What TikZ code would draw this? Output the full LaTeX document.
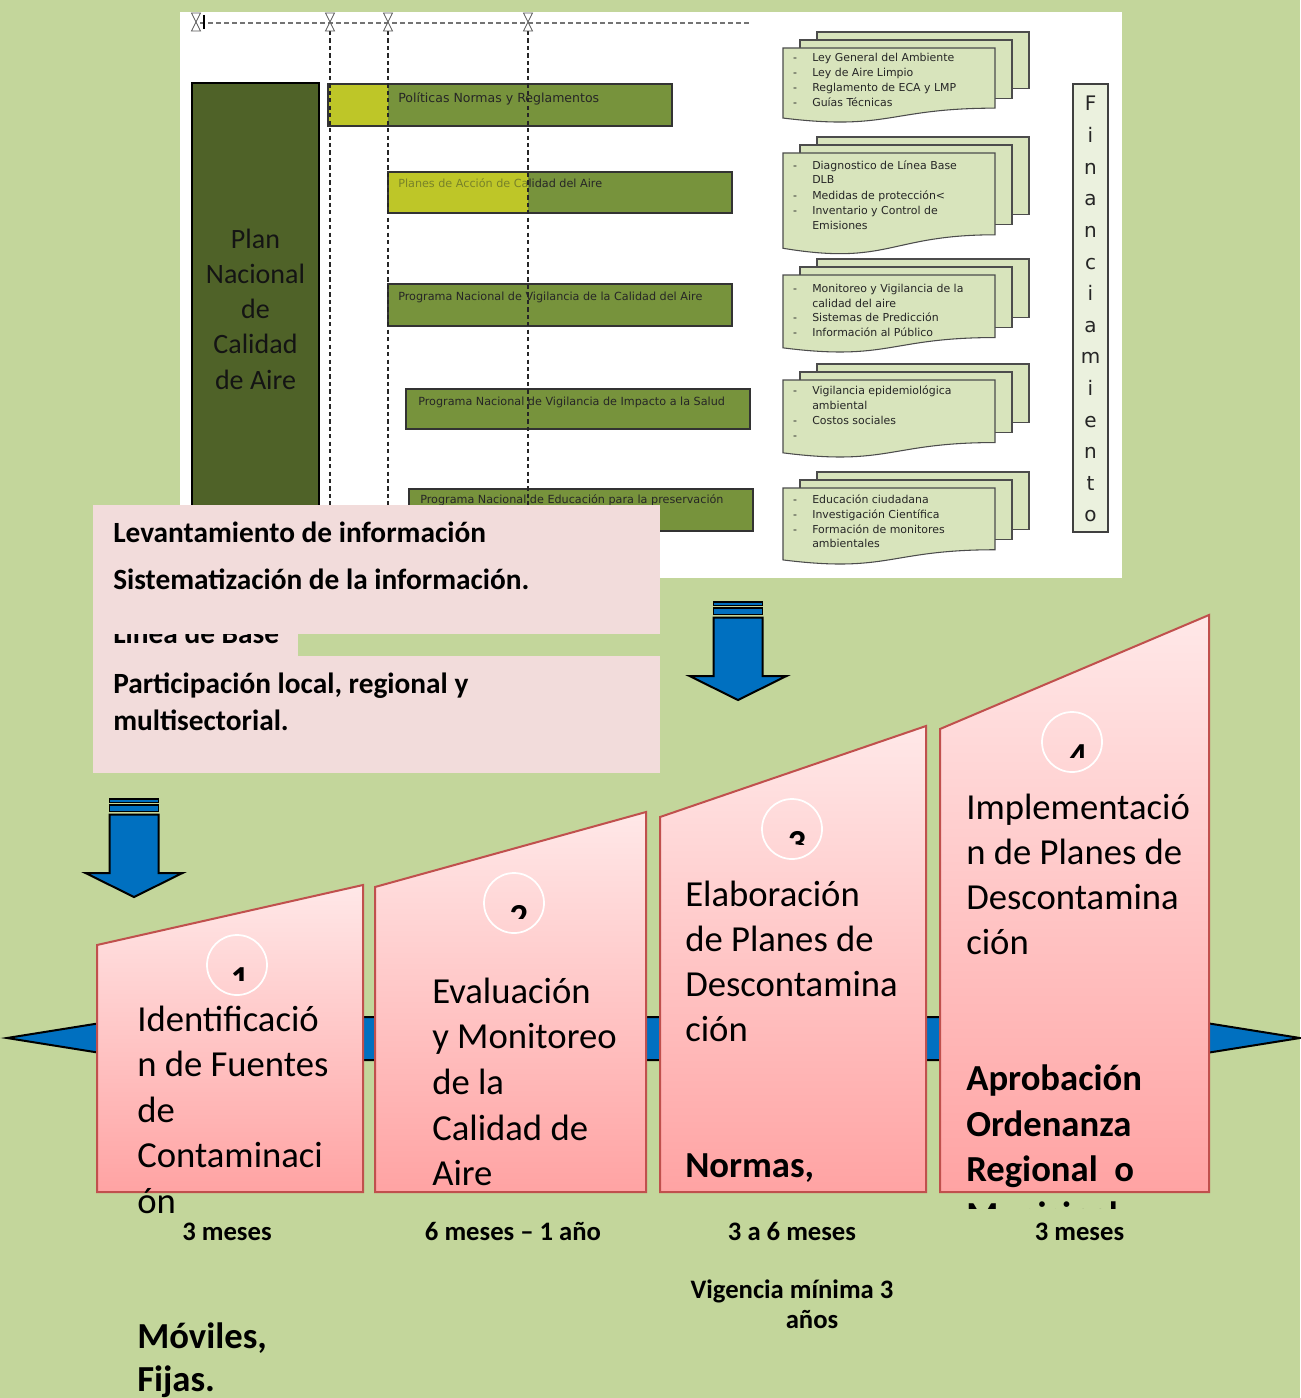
\documentclass[tikz,border=0pt]{standalone}
\usepackage{fontspec}
\setmainfont{Carlito}
\newfontfamily\figsans{DejaVu Sans}

\definecolor{bggreen}{RGB}{195,214,155}
\definecolor{olivebar}{RGB}{119,147,60}
\definecolor{darkolive}{RGB}{79,98,40}
\definecolor{limebar}{RGB}{190,198,40}
\definecolor{dimtext}{RGB}{120,130,40}
\definecolor{docfill}{RGB}{216,228,188}
\definecolor{finfill}{RGB}{235,241,222}
\definecolor{notepink}{RGB}{242,220,219}
\definecolor{steptop}{RGB}{255,232,232}
\definecolor{stepbot}{RGB}{255,163,163}
\definecolor{stepedge}{RGB}{192,80,77}
\definecolor{arrowblue}{RGB}{0,112,192}

% page of a document stack: wavy front sheet and plain sheets behind it
\newcommand\docfront[3]{%
  \filldraw[docpage] ({#1},{#2}) -- ({#1+212},{#2}) -- ({#1+212},{#2+0.802*#3})
    .. controls ({#1+106},{#2+0.802*#3}) and ({#1+106},{#2+1.107*#3}) .. ({#1},{#2+0.934*#3}) -- cycle;}
\newcommand\docback[3]{%
  \filldraw[docpage] ({#1},{#2}) rectangle ({#1+212},{#3});}
\newcommand\docstack[3]{%
  \docback{#1+34}{#2-16}{#2+0.802*#3-20}%
  \docback{#1+17}{#2-8}{#2+0.802*#3-10}%
  \docfront{#1}{#2}{#3}}

% downward block arrow with two bars on top: centre x, top y
\newcommand\droparrow[2]{%
  \filldraw[blockarrow, line width=1.1pt] ({#1-24.5},{#2}) rectangle ({#1+24.5},{#2+3.5});
  \filldraw[blockarrow, line width=1.1pt] ({#1-24.5},{#2+6}) rectangle ({#1+24.5},{#2+12.5});
  \filldraw[blockarrow] ({#1-24.5},{#2+15.5}) -- ({#1+24.5},{#2+15.5}) -- ({#1+24.5},{#2+74})
    -- ({#1+48.5},{#2+74}) -- ({#1},{#2+98}) -- ({#1-48.5},{#2+74}) -- ({#1-24.5},{#2+74}) -- cycle;}

\begin{document}
\begin{tikzpicture}[x=0.75pt,y=-0.75pt,
  imgline/.style={line width=0.8pt, black!85, dash pattern=on 3.2pt off 2.4pt},
  barbox/.style={draw=black!80, line width=0.9pt},
  bartext/.style={anchor=base west, inner sep=0pt, font=\figsans\fontsize{8.4}{10}\selectfont, text=black!85},
  docpage/.style={fill=docfill, draw=black!70, line width=0.8pt},
  doctext/.style={anchor=base west, inner sep=0pt, font=\figsans\fontsize{8.2}{10}\selectfont, text=black!85},
  fintext/.style={anchor=base, inner sep=0pt, font=\figsans\fontsize{15}{18}\selectfont, text=black!85},
  plantext/.style={anchor=base, inner sep=0pt, font=\fontsize{21}{25}\selectfont, text=black!92},
  notetext/.style={anchor=base west, inner sep=0pt, font=\fontsize{22}{27}\selectfont\bfseries},
  blockarrow/.style={fill=arrowblue, draw=black, line width=1.5pt, line join=miter},
  stepbox/.style={top color=steptop, bottom color=stepbot, draw=stepedge, line width=1.5pt},
  steptext/.style={anchor=base west, inner sep=0pt, font=\fontsize{27.5}{34}\selectfont},
  stepbold/.style={anchor=base west, inner sep=0pt, font=\fontsize{27.5}{34}\selectfont\bfseries},
  ring/.style={draw=white, line width=1.3pt},
  digit/.style={anchor=base, inner sep=0pt, font=\fontsize{27.5}{34}\selectfont\bfseries},
  timetext/.style={anchor=base, inner sep=0pt, font=\fontsize{20}{24}\selectfont\bfseries},
]
\fill[bggreen] (0,0) rectangle (1300,1398);
\useasboundingbox (0,0) rectangle (1300,1398);

% ---------- national plan chart ----------
\fill[white] (180,12) rectangle (1122,578);

% timeline rule with milestones
\draw[black!55, line width=0.8pt, dash pattern=on 3.5pt off 2.5pt] (200,23) -- (750,23);

% plan column
\filldraw[fill=darkolive, draw=black, line width=0.9pt] (192,83) rectangle (319,578);
\foreach \w/\yy [count=\k] in {Plan/248, Nacional/283, de/318, Calidad/353, de Aire/389}
  \node[plantext] (plan\k) at (255.5,\yy) {\w};

% programme bars
\fill[olivebar] (328,84) rectangle (672,126);
\fill[limebar] (328,84) rectangle (388,126);
\draw[barbox] (328,84) rectangle (672,126);
\node[bartext, font=\figsans\fontsize{9.4}{11}\selectfont] (bar1) at (398,103) {Políticas Normas y Reglamentos};

\fill[olivebar] (388,172) rectangle (732,213);
\fill[limebar] (388,172) rectangle (528,213);
\draw[barbox] (388,172) rectangle (732,213);
\begin{scope}
  \clip (388,160) rectangle (528,220);
  \node[bartext, text=dimtext] (bar2a) at (398,188) {Planes de Acción de Calidad  del Aire};
\end{scope}
\begin{scope}
  \clip (528,160) rectangle (740,220);
  \node[bartext] (bar2b) at (398,188) {Planes de Acción de Calidad  del Aire};
\end{scope}

\filldraw[fill=olivebar, barbox] (388,284) rectangle (732,326);
\node[bartext] (bar3) at (398,300) {Programa Nacional  de Vigilancia  de la Calidad  del Aire};

\filldraw[fill=olivebar, barbox] (406,389) rectangle (750,429);
\node[bartext] (bar4) at (418,405) {Programa Nacional  de Vigilancia  de Impacto a la Salud};

\filldraw[fill=olivebar, barbox] (409,489) rectangle (753,531);
\node[bartext] (bar5) at (420,503) {Programa Nacional  de Educación  para la preservación};

% milestone guides
\foreach \gx in {330,388,528}
  \draw[imgline] (\gx,31) -- (\gx,578);
\foreach \hx in {196,330,388,528}
  \filldraw[fill=white, draw=black!65, line width=0.6pt]
    (\hx-4.5,13) -- (\hx+4.5,13) -- (\hx-4.5,31) -- (\hx+4.5,31) -- cycle;
\draw[line width=1.6pt] (204,15) -- (204,29);

% document stacks
\docstack{783}{48}{75}
\docstack{783}{153}{102}
\docstack{783}{275}{78}
\docstack{783}{380}{78}
\docstack{783}{488}{77}

\foreach \yy/\bul/\txt in {
   62/-/Ley General del Ambiente, 77/-/Ley de Aire Limpio, 92/-/Reglamento de ECA y LMP, 107/-/Guías Técnicas,
   170/-/Diagnostico  de Línea Base, 184//DLB, 200/-/Medidas de protección<, 215/-/Inventario y Control  de, 229//Emisiones,
   292/-/Monitoreo y Vigilancia  de la, 307//calidad del aire, 321/-/Sistemas de Predicción, 336/-/Información al Público,
   394/-/Vigilancia  epidemiológica, 409//ambiental, 424/-/Costos sociales, 439/-/{},
   503/-/Educación ciudadana, 518/-/Investigación Científica, 533/-/Formación de monitores, 547//ambientales}
{
  \node[doctext] (dt\yy) at (812,\yy) {\txt};
  \node[doctext, anchor=base] (db\yy) at (795,\yy) {\bul};
}

% financing column
\filldraw[fill=finfill, draw=black!75, line width=0.9pt] (1073,84) rectangle (1108,532);
\foreach \ch [count=\k from 0] in {F,i,n,a,n,c,i,a,m,i,e,n,t,o}
  \node[fintext] (fin\k) at (1090.5,{111+31.6*\k}) {\ch};

% ---------- notes ----------
\fill[notepink] (93,600) rectangle (298,656);
\node[notetext] (base) at (113,643) {Línea de Base};
\fill[notepink] (93,505) rectangle (660,634);
\node[notetext] (levant) at (113,542) {Levantamiento de información};
\node[notetext] (sistem) at (113,589) {Sistematización de la información.};
\fill[notepink] (93,656) rectangle (660,773);
\node[notetext] (partic1) at (113,693) {Participación local, regional y};
\node[notetext] (partic2) at (113,730) {multisectorial.};

\droparrow{738}{602}
\droparrow{134}{799}

% ---------- process timeline ----------
\filldraw[blockarrow] (7,1038) -- (207,1006) -- (207,1017) -- (1100,1017) -- (1100,1006)
  -- (1300,1038) -- (1100,1070) -- (1100,1060) -- (207,1060) -- (207,1070) -- cycle;

\shadedraw[stepbox] (97,945) -- (363,885) -- (363,1192) -- (97,1192) -- cycle;
\shadedraw[stepbox] (375,887) -- (646,812) -- (646,1192) -- (375,1192) -- cycle;
\shadedraw[stepbox] (660,817) -- (926,726) -- (926,1192) -- (660,1192) -- cycle;
\shadedraw[stepbox] (940,729) -- (1209,615) -- (1209,1192) -- (940,1192) -- cycle;

% numbered rings
\foreach \cx/\cy/\dx/\num in {237/965/240/1, 514/903/519/2, 792/829/797/3, 1072/742/1078/4}
{
  \draw[ring] (\cx,\cy) circle (22.5pt);
  \begin{scope}
    \clip (\cx-30,\cy-30) rectangle (\cx+30,\cy+15);
    \node[digit] (num\num) at (\dx,\cy+26) {\num};
  \end{scope}
}

% step texts
\foreach \ln [count=\k from 0] in {Identificació, n de Fuentes, de, Contaminaci, ón}
  \node[steptext] (sa\k) at (137,{1031+45.5*\k}) {\ln};
\node[stepbold] (moviles) at (137,1348) {Móviles,};
\node[stepbold] (fijas) at (137,1391) {Fijas.};

\foreach \ln [count=\k from 0] in {Evaluación, y Monitoreo, de la, Calidad de, Aire}
  \node[steptext] (sb\k) at (432,{1003+45.7*\k}) {\ln};

\foreach \ln [count=\k from 0] in {Elaboración, de Planes de, Descontamina, ción}
  \node[steptext] (sc\k) at (685,{906+45.3*\k}) {\ln};
\node[stepbold] (normas) at (685,1177) {Normas,};

\foreach \ln [count=\k from 0] in {Implementació, n de Planes de, Descontamina, ción}
  \node[steptext] (sd\k) at (966,{819+45.3*\k}) {\ln};
\node[stepbold] (aprob) at (966,1090) {Aprobación};
\node[stepbold] (orden) at (966,1136) {Ordenanza};
\node[stepbold] (region) at (966,1181) {Regional~~o};
\begin{scope}
  \clip (940,1194) rectangle (1209,1208);
  \node[stepbold] (munic) at (966,1227) {Municipal};
\end{scope}

% durations
\node[timetext] (t1) at (227,1240) {3 meses};
\node[timetext] (t2) at (513,1240) {6 meses – 1 año};
\node[timetext] (t3) at (792,1240) {3 a 6 meses};
\node[timetext] (t4) at (1079.5,1240) {3 meses};
\node[timetext] (vig1) at (792,1298) {Vigencia mínima 3};
\node[timetext] (vig2) at (812,1328) {años};
\end{tikzpicture}
\end{document}
